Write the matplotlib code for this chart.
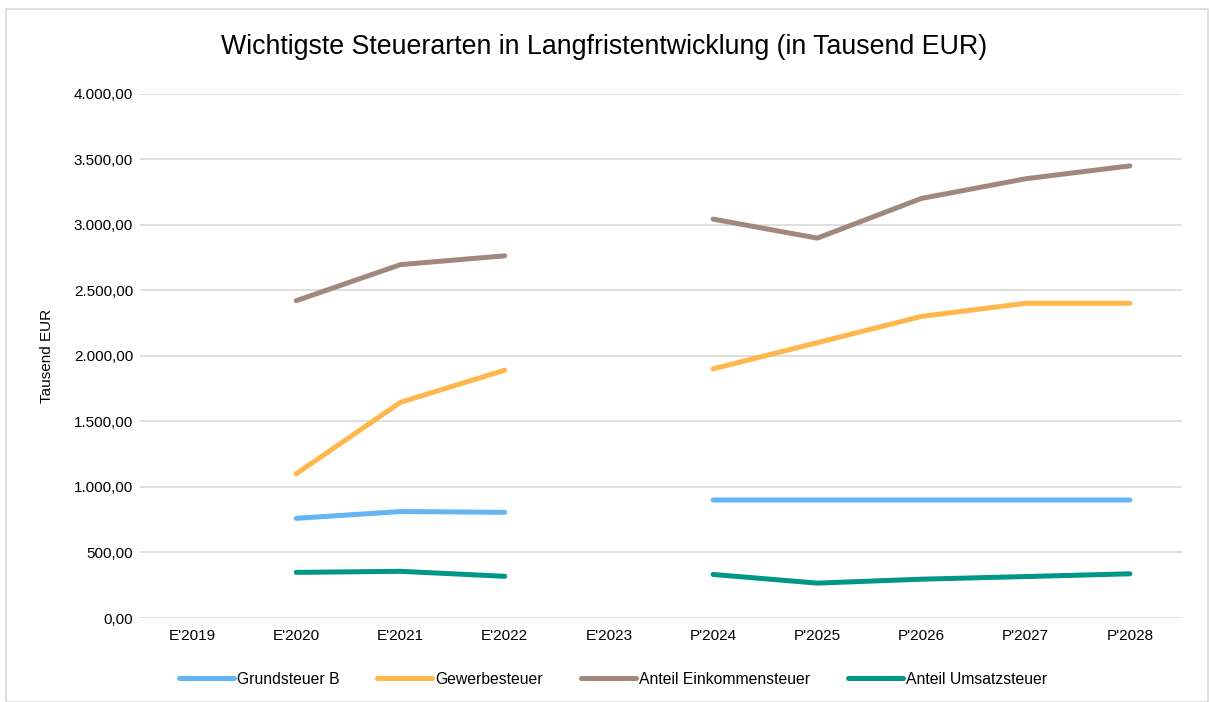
import matplotlib.pyplot as plt
import numpy as np
from matplotlib.patches import Rectangle
from matplotlib.ticker import FuncFormatter

plt.rcParams['font.family'] = ['Liberation Sans', 'DejaVu Sans']

years = ["E'2019", "E'2020", "E'2021", "E'2022", "E'2023",
         "P'2024", "P'2025", "P'2026", "P'2027", "P'2028"]
nan = np.nan
grundsteuer = [nan, 760, 812, 806, nan, 900, 900, 900, 900, 900]
gewerbe = [nan, 1100, 1645, 1890, nan, 1900, 2100, 2300, 2400, 2400]
einkommen = [nan, 2420, 2695, 2762, nan, 3042, 2897, 3200, 3350, 3448]
umsatz = [nan, 348, 356, 318, nan, 332, 266, 296, 316, 337]

names = ['Grundsteuer B', 'Gewerbesteuer', 'Anteil Einkommensteuer', 'Anteil Umsatzsteuer']
colors = ['#64B5F6', '#FFB74D', '#A1887F', '#009688']

def fmt(v, pos):
    s = '{:,.2f}'.format(v)
    return s.replace(',', 'X').replace('.', ',').replace('X', '.')

fig = plt.figure(figsize=(12.09, 7.02), dpi=100)
fig.patches.append(Rectangle((6/1209, 0), 1 - 7/1209, 1 - 9/702, transform=fig.transFigure,
                             fill=False, edgecolor='#d9d9d9', linewidth=1.2))
ax = fig.add_axes([140/1209, 84/702, 1042/1209, 524.5/702])

x = np.arange(len(years))
for vals, name, c in zip([grundsteuer, gewerbe, einkommen, umsatz], names, colors):
    ax.plot(x, vals, color=c, linewidth=3.6, solid_capstyle='round', label=name)

ax.set_xlim(-0.5, len(years) - 0.5)
ax.set_ylim(0, 4000)
ax.set_yticks(np.arange(0, 4001, 500))
ax.yaxis.set_major_formatter(FuncFormatter(fmt))
ax.set_xticks(x)
ax.set_xticklabels(years)
ax.grid(axis='y', color='#d9d9d9', linewidth=1.2)
ax.set_axisbelow(True)
for s in ax.spines.values():
    s.set_visible(False)
ax.tick_params(axis='both', length=0, labelsize=11, colors='#000000', pad=8)
ax.tick_params(axis='y', pad=5)
ax.set_ylabel('Tausend EUR', fontsize=11, labelpad=14)

fig.text(0.5, 1 - 47/702, 'Wichtigste Steuerarten in Langfristentwicklung (in Tausend EUR)',
         ha='center', va='center', fontsize=19.3)

fig.legend(loc='center', bbox_to_anchor=(613/1209, 1 - 679/702), ncol=4, frameon=False,
           fontsize=11.3, handlelength=3.5, columnspacing=2.4, handletextpad=0.2)

fig.savefig('out.png', dpi=100)
